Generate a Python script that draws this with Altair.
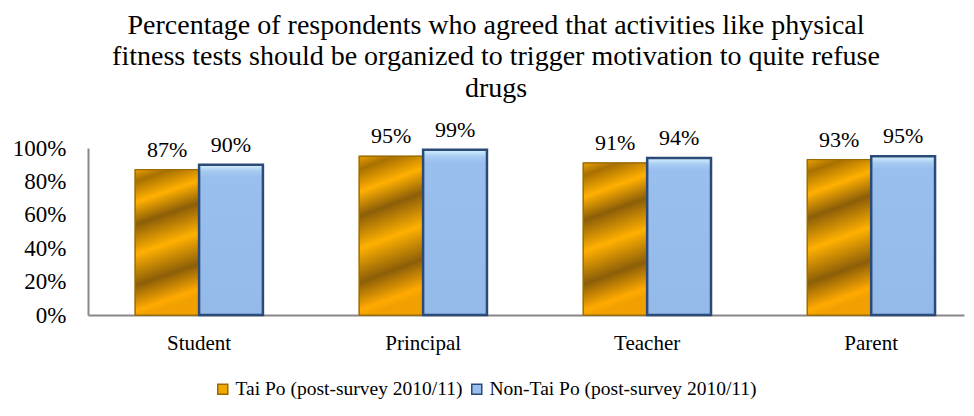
import altair as alt
import pandas as pd

categories = ["Student", "Principal", "Teacher", "Parent"]
series_names = ["Tai Po (post-survey 2010/11)", "Non-Tai Po (post-survey 2010/11)"]
tai_po = [0.87, 0.95, 0.91, 0.93]
non_tai_po = [0.90, 0.99, 0.94, 0.95]
title_lines = [
    "Percentage of respondents who agreed that activities like physical",
    "fitness tests should be organized to trigger motivation to quite refuse",
    "drugs",
]

rows = []
for c, a, b in zip(categories, tai_po, non_tai_po):
    rows.append({"category": c, "series": series_names[0], "value": a})
    rows.append({"category": c, "series": series_names[1], "value": b})
df = pd.DataFrame(rows)

FONT = "Liberation Serif"

x_enc = alt.X("category:N", sort=categories, title=None,
              scale=alt.Scale(paddingInner=0.43, paddingOuter=0.17, align=0.62),
              axis=alt.Axis(labelAngle=0, labelFont=FONT, labelFontSize=21, labelColor="#000",
                            labelPadding=17, ticks=False, domainColor="#888888", domainWidth=2))
xo_enc = alt.XOffset("series:N", sort=series_names, scale=alt.Scale(domain=series_names, paddingInner=0))
y_enc = alt.Y("value:Q", title=None,
              scale=alt.Scale(domain=[0, 1], nice=False),
              axis=alt.Axis(values=[0, 0.2, 0.4, 0.6, 0.8, 1.0], format=".0%", grid=False, ticks=False,
                            labelFont=FONT, labelFontSize=23, labelColor="#000", labelPadding=22,
                            domainColor="#888888", domainWidth=2))

base = alt.Chart(df).encode(x=x_enc, xOffset=xo_enc, y=y_enc)

bars = base.mark_bar(strokeWidth=1.5).encode(
    color=alt.Color("series:N", sort=series_names, title=None,
                    scale=alt.Scale(domain=series_names, range=["#F0A800", "#99BFEE"]),
                    legend=alt.Legend(orient="none", direction="horizontal", legendX=125, legendY=231,
                                      symbolType="square", symbolSize=100, symbolStrokeWidth=1.5,
                                      labelFont=FONT, labelFontSize=19.5, labelColor="#000",
                                      labelLimit=400, labelOffset=3, columnPadding=4, symbolOpacity=1)),
    stroke=alt.Stroke("series:N", sort=series_names, title=None,
                      scale=alt.Scale(domain=series_names, range=["#9A6A00", "#2B4A78"])),
)

gold = alt.LinearGradient(
    gradient="linear", x1=0, y1=0, x2=0.15, y2=1,
    stops=[
        alt.GradientStop(color="#E8A000", offset=0.0),
        alt.GradientStop(color="#A87000", offset=0.08),
        alt.GradientStop(color="#FFB000", offset=0.22),
        alt.GradientStop(color="#8C5E08", offset=0.37),
        alt.GradientStop(color="#FFB000", offset=0.57),
        alt.GradientStop(color="#8C5E08", offset=0.78),
        alt.GradientStop(color="#FFAA00", offset=0.95),
        alt.GradientStop(color="#F0A000", offset=1.0),
    ],
)
blue = alt.LinearGradient(
    gradient="linear", x1=0, y1=0, x2=0, y2=1,
    stops=[
        alt.GradientStop(color="#D8F2FF", offset=0.0),
        alt.GradientStop(color="#A8CCF2", offset=0.04),
        alt.GradientStop(color="#99BFEE", offset=0.08),
        alt.GradientStop(color="#94BAEA", offset=1.0),
    ],
)

gold_bars = base.mark_bar(color=gold, stroke="#9A6A00", strokeWidth=1).transform_filter(
    alt.datum.series == series_names[0])
blue_bars = base.mark_bar(color=blue, stroke="#2B4A78", strokeWidth=2.5).transform_filter(
    alt.datum.series == series_names[1])

labels = base.mark_text(font=FONT, fontSize=22, color="#000", baseline="bottom", dy=-8).encode(
    text=alt.Text("value:Q", format=".0%"))

chart = alt.layer(bars, gold_bars, blue_bars, labels).properties(
    width=876, height=167,
    autosize="none",
    padding={"left": 80, "top": 140, "right": 2, "bottom": 93},
    title=alt.TitleParams(text=title_lines, font=FONT, fontSize=28, fontWeight="normal",
                          color="#000", anchor="middle", dx=-30, offset=16, lineHeight=31.5),
).configure_view(stroke=None).configure_title(font=FONT, fontWeight="normal")

chart.save("out.html", embed_options={"renderer": "svg", "actions": False})
